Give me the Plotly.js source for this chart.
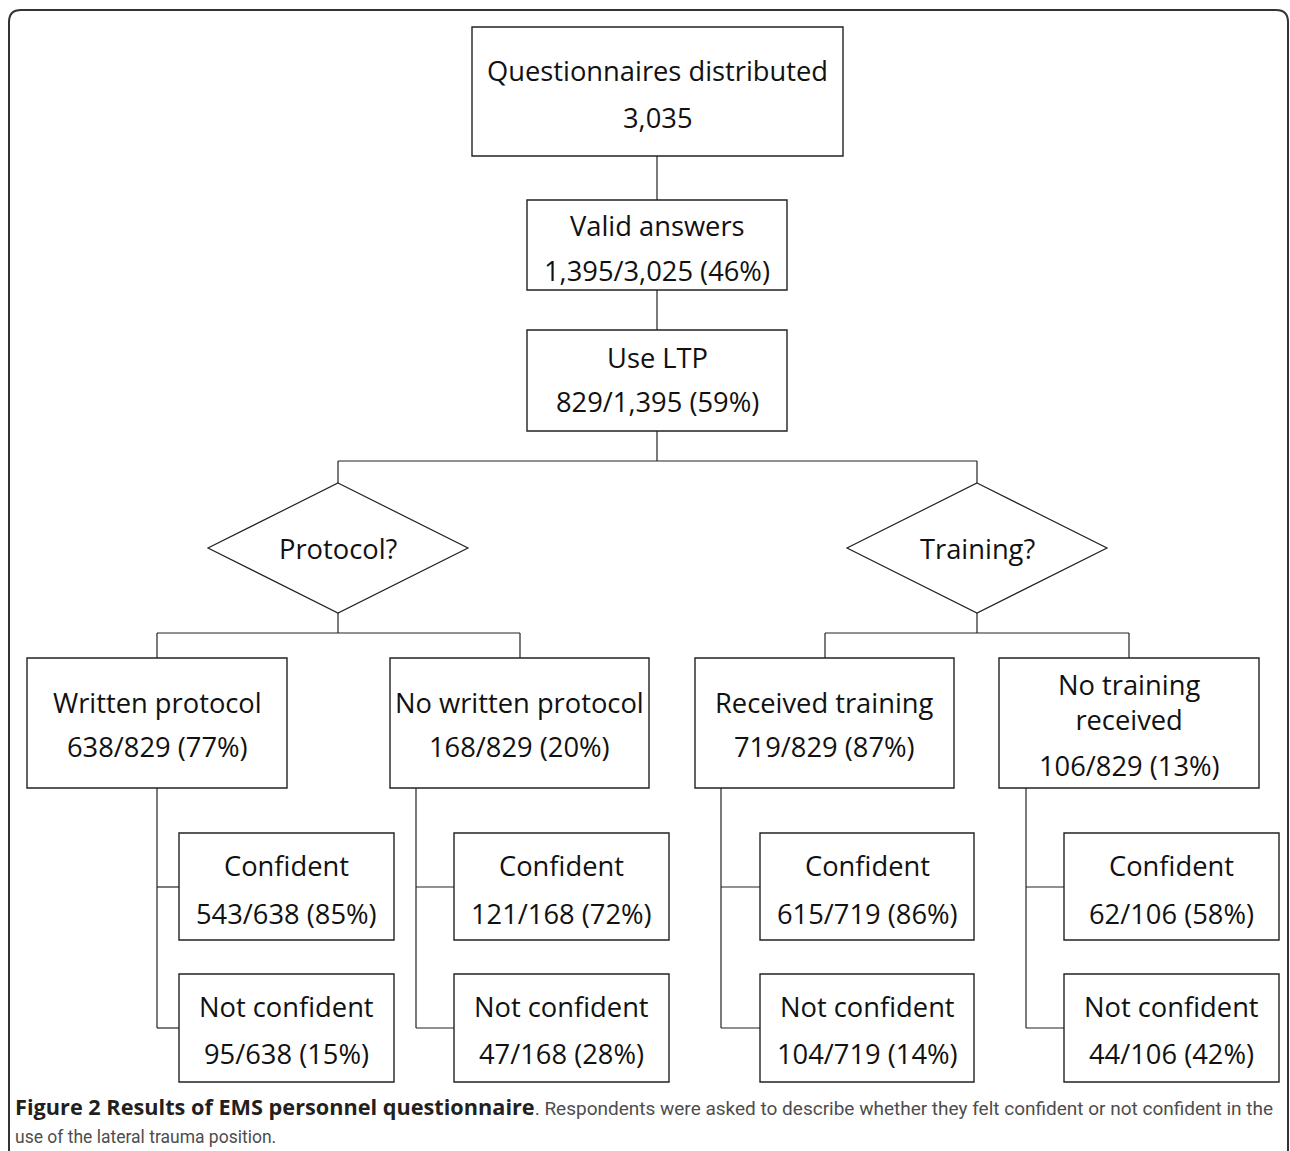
<!DOCTYPE html>
<html>
<head>
<meta charset="utf-8">
<script src="https://cdn.plot.ly/plotly-3.0.1.min.js"></script>
<style>html,body{margin:0;padding:0;background:#fff;}#chart{width:1290px;height:1151px;}</style>
</head>
<body>
<div id="chart"></div>
<script>
// ---------- data ----------
const nodeIds      = ["dist", "valid", "ltp", "protocol", "training", "written", "nowritten", "recv", "norecv", "c1", "n1", "c2", "n2", "c3", "n3", "c4", "n4"];
const nodeTitles   = ["Questionnaires distributed", "Valid answers", "Use LTP", "Protocol?", "Training?", "Written protocol", "No written protocol", "Received training", "No training<br>received", "Confident", "Not confident", "Confident", "Not confident", "Confident", "Not confident", "Confident", "Not confident"];
const nodeCounts   = ["3,035", "1,395", "829", null, null, 638, 168, 719, 106, 543, 95, 121, 47, 615, 104, 62, 44];
const nodeTotals   = [null, "3,025", "1,395", null, null, 829, 829, 829, 829, 638, 638, 168, 168, 719, 719, 106, 106];
const nodePercents = [null, 46, 59, null, null, 77, 20, 87, 13, 85, 15, 72, 28, 86, 14, 58, 42];
const captionBold  = "Figure 2 Results of EMS personnel questionnaire";
const captionRest1 = ". Respondents were asked to describe whether they felt confident or not confident in the";
const captionRest2 = "use of the lateral trauma position.";

// ---------- geometry (pixel layout) ----------
const geom = {
  dist:     {x0:472, x1:843, y0:27,  y1:156, ty:[70,117]},
  valid:    {x0:527, x1:787, y0:200, y1:290, ty:[225,270]},
  ltp:      {x0:527, x1:787, y0:330, y1:431, ty:[357,401]},
  protocol: {diamond:true, cx:338, cy:548, hw:130, hh:65},
  training: {diamond:true, cx:977, cy:548, hw:130, hh:65},
  written:  {x0:27,  x1:287, y0:658, y1:788, ty:[702,746]},
  nowritten:{x0:390, x1:649, y0:658, y1:788, ty:[702,746]},
  recv:     {x0:695, x1:954, y0:658, y1:788, ty:[702,746]},
  norecv:   {x0:999, x1:1259,y0:658, y1:788, ty:[702,765]},
  c1: {x0:179, x1:394, y0:833, y1:940, ty:[865,913]},
  n1: {x0:179, x1:394, y0:974, y1:1082, ty:[1006,1053]},
  c2: {x0:454, x1:669, y0:833, y1:940, ty:[865,913]},
  n2: {x0:454, x1:669, y0:974, y1:1082, ty:[1006,1053]},
  c3: {x0:760, x1:974, y0:833, y1:940, ty:[865,913]},
  n3: {x0:760, x1:974, y0:974, y1:1082, ty:[1006,1053]},
  c4: {x0:1064,x1:1279,y0:833, y1:940, ty:[865,913]},
  n4: {x0:1064,x1:1279,y0:974, y1:1082, ty:[1006,1053]}
};

const FONT = "'Open Sans', Lato, sans-serif";
const FS = 27.3;
const INK = "#111";
const shapes = [];
const annotations = [];

function line(x0,y0,x1,y1,w){
  shapes.push({type:"line", xref:"x", yref:"y", x0:x0, y0:y0, x1:x1, y1:y1, line:{color:"#222", width:w||1.2}});
}

// outer rounded frame
const r = 12, fx0 = 9, fy0 = 10, fx1 = 1288, fy1 = 1175;
shapes.push({type:"path", xref:"x", yref:"y",
  path:`M${fx0},${fy1} L${fx0},${fy0+r} Q${fx0},${fy0} ${fx0+r},${fy0} L${fx1-r},${fy0} Q${fx1},${fy0} ${fx1},${fy0+r} L${fx1},${fy1}`,
  line:{color:"#333", width:2}});

// nodes
nodeIds.forEach((id,i)=>{
  const g = geom[id];
  let second = null;
  if (nodeCounts[i] !== null && nodeTotals[i] === null) second = String(nodeCounts[i]);
  else if (nodeCounts[i] !== null) second = nodeCounts[i] + "/" + nodeTotals[i] + " (" + nodePercents[i] + "%)";
  if (g.diamond){
    shapes.push({type:"path", xref:"x", yref:"y",
      path:`M${g.cx},${g.cy-g.hh} L${g.cx+g.hw},${g.cy} L${g.cx},${g.cy+g.hh} L${g.cx-g.hw},${g.cy} Z`,
      line:{color:"#222", width:1.2}});
    annotations.push({x:g.cx, y:g.cy, xref:"x", yref:"y", text:nodeTitles[i], showarrow:false,
      font:{family:FONT, size:FS, color:INK}, xanchor:"center", yanchor:"middle"});
  } else {
    shapes.push({type:"rect", xref:"x", yref:"y", x0:g.x0, x1:g.x1, y0:g.y0, y1:g.y1,
      line:{color:"#222", width:1.4}, fillcolor:"rgba(0,0,0,0)"});
    const cx = (g.x0+g.x1)/2;
    const titleY = (id === "norecv") ? 702 : g.ty[0];
    annotations.push({x:cx, y:titleY, xref:"x", yref:"y", text:nodeTitles[i], showarrow:false,
      font:{family:FONT, size:FS, color:INK}, xanchor:"center", yanchor:"middle"});
    if (second) annotations.push({x:cx, y:g.ty[1], xref:"x", yref:"y", text:second, showarrow:false,
      font:{family:FONT, size:FS, color:INK}, xanchor:"center", yanchor:"middle"});
  }
});

// connectors
line(657,156,657,200);
line(657,290,657,330);
line(657,431,657,461);
line(338,461,977,461);
line(338,461,338,483);
line(977,461,977,483);
line(338,613,338,633);
line(977,613,977,633);
line(157,633,520,633);
line(825,633,1129,633);
line(157,633,157,658);
line(520,633,520,658);
line(825,633,825,658);
line(1129,633,1129,658);
// branches to confident / not confident
[[157,"c1","n1"],[416,"c2","n2"],[721,"c3","n3"],[1026,"c4","n4"]].forEach(([bx,c,n])=>{
  line(bx,788,bx,1028);
  line(bx,887,geom[c].x0,887);
  line(bx,1028,geom[n].x0,1028);
});

// caption
annotations.push({x:13, y:1106, xref:"x", yref:"y", xanchor:"left", yanchor:"middle", showarrow:false,
  text:"<span style=\"font-family:'Open Sans';font-weight:bold;font-size:21.7px;color:#231f20\">"+captionBold+"</span>"+captionRest1,
  font:{family:"Roboto, sans-serif", size:19, color:"#4d4d4d"}});
annotations.push({x:13, y:1137, xref:"x", yref:"y", xanchor:"left", yanchor:"middle", showarrow:false,
  text:captionRest2,
  font:{family:"Roboto, sans-serif", size:17.5, color:"#4d4d4d"}});

const layout = {
  width:1290, height:1151,
  margin:{l:0,r:0,t:0,b:0},
  paper_bgcolor:"#fff", plot_bgcolor:"#fff",
  xaxis:{range:[0,1290], visible:false, fixedrange:true},
  yaxis:{range:[1151,0], visible:false, fixedrange:true},
  shapes:shapes, annotations:annotations, showlegend:false
};
Plotly.newPlot("chart", [{x:[], y:[], type:"scatter", mode:"markers", hoverinfo:"skip"}], layout, {displayModeBar:false, staticPlot:true});
</script>
</body>
</html>
